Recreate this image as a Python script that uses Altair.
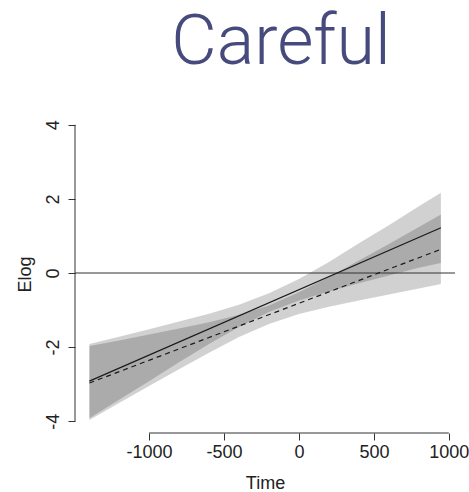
import altair as alt
import pandas as pd

# ---- data ----
band_time = [-1398, -1200, -1000, -800, -600, -400, -200, 0, 200, 400, 600, 800, 947]
solid_lo = [-3.92, -3.42, -2.92, -2.41, -1.92, -1.46, -1.05, -0.74, -0.50, -0.28, -0.07, 0.14, 0.27]
solid_hi = [-1.92, -1.72, -1.52, -1.31, -1.10, -0.86, -0.55, -0.16, 0.30, 0.80, 1.29, 1.80, 2.17]
dashed_lo = [-3.97, -3.51, -3.05, -2.60, -2.15, -1.73, -1.375, -1.11, -0.91, -0.74, -0.58, -0.42, -0.30]
dashed_hi = [-1.97, -1.82, -1.66, -1.50, -1.33, -1.13, -0.875, -0.52, -0.11, 0.34, 0.78, 1.24, 1.58]

line_time = [-1398, 947]
solid_y = [-2.92, 1.22]
dashed_y = [-2.97, 0.64]

x_ticks = [-1000, -500, 0, 500, 1000]
y_ticks = [-4, -2, 0, 2, 4]

title_text = ["Careful"]

FONT = "Liberation Sans"
TXT = "#222222"
FS = 18

bands = pd.concat([
    pd.DataFrame({"t": band_time, "lo": solid_lo, "hi": solid_hi, "band": "solid"}),
    pd.DataFrame({"t": band_time, "lo": dashed_lo, "hi": dashed_hi, "band": "dashed"}),
])
solid = pd.DataFrame({"t": line_time, "y": solid_y})
dashed = pd.DataFrame({"t": line_time, "y": dashed_y})

xs = alt.Scale(domain=[-1494, 1041], nice=False, zero=False)
ys = alt.Scale(domain=[-4.32, 4.32], nice=False, zero=False)

x_axis = alt.Axis(values=x_ticks, title="Time", grid=False, domain=False,
                  tickSize=7, tickColor="#333333", tickWidth=1,
                  labelFont=FONT, labelFontSize=FS, labelColor=TXT, labelPadding=3.7,
                  labelExpr="'' + datum.value", labelFlush=False, labelOverlap=False,
                  titleFont=FONT, titleFontSize=FS, titleFontWeight="normal", titleColor=TXT,
                  titleBaseline="alphabetic", titleY=55)
y_axis = alt.Axis(values=y_ticks, title="Elog", grid=False, domain=False,
                  tickSize=7, tickColor="#333333", tickWidth=1,
                  labelFont=FONT, labelFontSize=FS, labelColor=TXT, labelPadding=9.5,
                  labelAngle=270, labelAlign="center", labelBaseline="alphabetic",
                  labelExpr="'' + datum.value", labelFlush=False, labelOverlap=False,
                  titleFont=FONT, titleFontSize=FS, titleFontWeight="normal", titleColor=TXT,
                  titleAngle=270, titleBaseline="middle", titleAlign="center",
                  titleX=-50, titleY=161)

area = alt.Chart(bands).mark_area(color="black", opacity=0.18).encode(
    x=alt.X("t:Q", scale=xs, axis=x_axis),
    y=alt.Y("lo:Q", scale=ys, axis=y_axis),
    y2="hi:Q",
    detail="band:N",
)

zero = alt.Chart(pd.DataFrame({"v": [0]})).mark_rule(color="#333333", strokeWidth=1).encode(
    y=alt.Y("v:Q", scale=ys)
)

l_solid = alt.Chart(solid).mark_line(color="#1a1a1a", strokeWidth=1.2).encode(
    x=alt.X("t:Q", scale=xs), y=alt.Y("y:Q", scale=ys)
)
l_dashed = alt.Chart(dashed).mark_line(color="#1a1a1a", strokeWidth=1.2, strokeDash=[5, 4]).encode(
    x=alt.X("t:Q", scale=xs), y=alt.Y("y:Q", scale=ys)
)

y_dom = alt.Chart(pd.DataFrame({"a": [y_ticks[0]], "b": [y_ticks[-1]]})).mark_rule(
    color="#333333", strokeWidth=1).encode(
    x=alt.value(0), y=alt.Y("a:Q", scale=ys), y2="b:Q"
)
x_dom = alt.Chart(pd.DataFrame({"a": [x_ticks[0]], "b": [x_ticks[-1]]})).mark_rule(
    color="#333333", strokeWidth=1).encode(
    y=alt.value(320), x=alt.X("a:Q", scale=xs), x2="b:Q"
)

title = alt.Chart(pd.DataFrame({"label": title_text})).mark_text(
    font="Roboto", fontSize=70, fontWeight=300, color="#464a7c",
    align="center", baseline="alphabetic"
).encode(x=alt.value(206), y=alt.value(-49), text="label:N")

chart = alt.layer(area, zero, l_solid, l_dashed, y_dom, x_dom, title).properties(
    width=380, height=320,
    autosize=alt.AutoSizeParams(type="none"),
    padding={"left": 75, "top": 113, "right": 14, "bottom": 59},
    background="white",
).configure_view(stroke=None)

chart.save("out.html", embed_options={"renderer": "svg", "actions": False})
